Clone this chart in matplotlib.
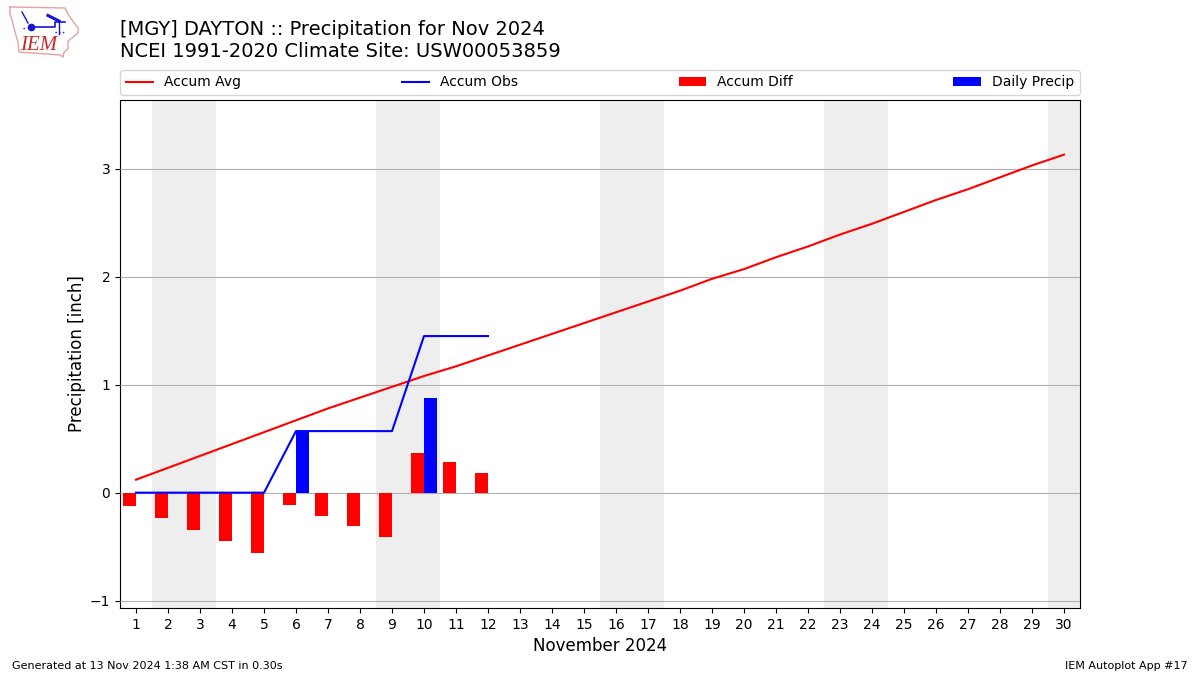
import matplotlib
matplotlib.use("Agg")
import matplotlib.pyplot as plt

days = list(range(1, 31))
accum_avg = [0.12, 0.23, 0.34, 0.45, 0.56, 0.67, 0.78, 0.88, 0.98, 1.08,
             1.17, 1.27, 1.37, 1.47, 1.57, 1.67, 1.77, 1.87, 1.98, 2.07,
             2.18, 2.28, 2.39, 2.49, 2.60, 2.71, 2.81, 2.92, 3.03, 3.13]
obs_days = list(range(1, 13))
accum_obs = [0, 0, 0, 0, 0, 0.57, 0.57, 0.57, 0.57, 1.45, 1.45, 1.45]
accum_diff = [-0.12, -0.23, -0.35, -0.45, -0.56, -0.11, -0.22, -0.31, -0.41, 0.37, 0.28, 0.18]
daily_precip = [0, 0, 0, 0, 0, 0.57, 0, 0, 0, 0.88, 0, 0]
weekends = [(1.5, 3.5), (8.5, 10.5), (15.5, 17.5), (22.5, 24.5), (29.5, 31.5)]

fig = plt.figure(figsize=(12, 6.75), dpi=100)
ax = fig.add_axes([120 / 1200, 1 - 608 / 675, 960 / 1200, 508 / 675])

for start, end in weekends:
    ax.axvspan(start, end, color="#EEEEEE", zorder=1, lw=0)

ax.plot(days, accum_avg, color="r", label="Accum Avg", zorder=4)
ax.plot(obs_days, accum_obs, color="b", label="Accum Obs", zorder=4)
ax.bar(obs_days, accum_diff, width=-0.4, align="edge", color="r", label="Accum Diff", zorder=3)
ax.bar(obs_days, daily_precip, width=0.4, align="edge", color="b", label="Daily Precip", zorder=3)

ax.set_xlim(0.5, 30.5)
ax.set_ylim(-1.068, 3.636)
ax.set_xticks(days)
ax.set_yticks([-1, 0, 1, 2, 3])
ax.grid(True, axis="y", color="#b0b0b0", lw=0.8, zorder=2)
ax.set_axisbelow(False)
ax.set_xlabel("November 2024", fontsize=12, labelpad=4)
ax.set_ylabel("Precipitation [inch]", fontsize=12, labelpad=3)
ax.legend(loc="lower left", bbox_to_anchor=(0, 1.0098, 1, 0.06), ncol=4, mode="expand",
          borderaxespad=0, fontsize=10)

fig.text(120 / 1200, 1 - 61 / 675, "[MGY] DAYTON :: Precipitation for Nov 2024\nNCEI 1991-2020 Climate Site: USW00053859",
         fontsize=14, ha="left", va="bottom", linespacing=1.2)
fig.text(12 / 1200, 1 - 666 / 675, "Generated at 13 Nov 2024 1:38 AM CST in 0.30s", fontsize=8, va="center")
fig.text(1188 / 1200, 1 - 666 / 675, "IEM Autoplot App #17", fontsize=8, va="center", ha="right")

# logo, drawn in pixel coordinates
logo = fig.add_axes([0, 1 - 60 / 675, 85 / 1200, 60 / 675])
logo.set_xlim(0, 85)
logo.set_ylim(60, 0)
logo.axis("off")
outline_x = [10, 65, 68, 72, 78, 78, 72, 68, 68, 64, 63, 60, 19, 18, 15, 12, 10, 10]
outline_y = [7, 8, 14, 20, 28, 33, 38, 41, 49, 52, 57, 55, 52, 42, 32, 20, 14, 7]
logo.plot(outline_x, outline_y, color="#e8a0a0", lw=1)
logo.plot([31, 55, 55, 65], [27, 27, 22, 22], color="#1414d8", lw=1.2)
logo.plot([22, 28], [12, 23], color="#1414d8", lw=1)
logo.plot([48, 55, 59], [15.5, 19, 21], color="#1414d8", lw=2.2)
logo.plot([59, 59], [22, 34], color="#1414d8", lw=1)
logo.plot([55, 64], [32, 32], color="#1414d8", lw=1, ls=":")
logo.plot([23, 26], [28, 28], color="#1414d8", lw=1, ls=":")
logo.plot([31], [27], marker="o", ms=4.5, color="#1414d8")
logo.text(20.5, 45, "IEM", color="#d02828", family="Liberation Serif", style="italic",
          fontsize=15, va="center", ha="left")

fig.savefig("out.png", dpi=100)
